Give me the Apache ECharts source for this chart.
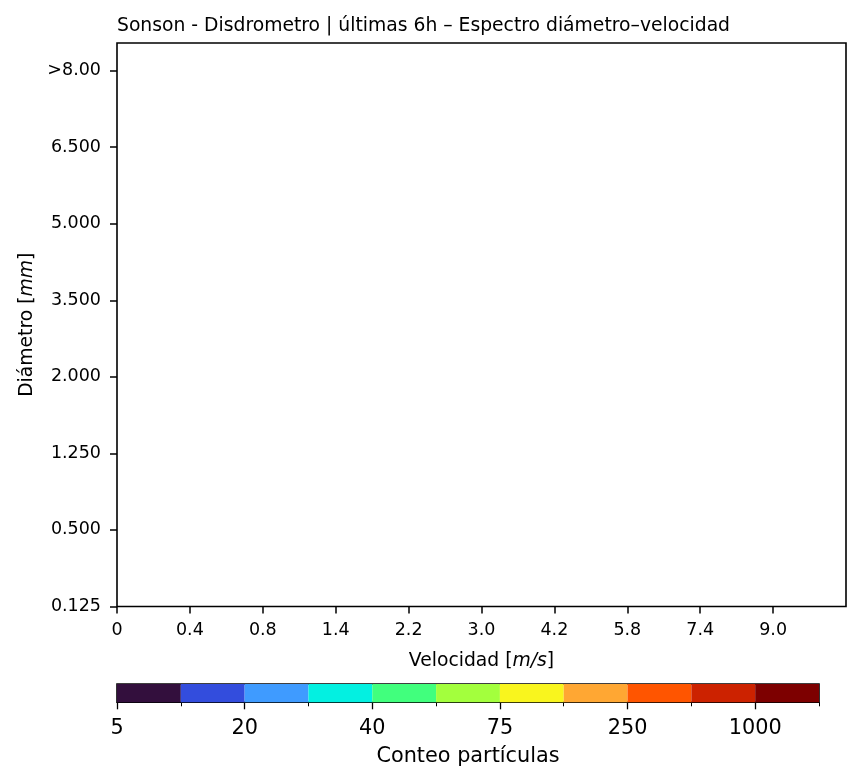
<!DOCTYPE html>
<html>
<head>
<meta charset="utf-8">
<script src="https://cdn.jsdelivr.net/npm/echarts@6/dist/echarts.min.js"></script>
<style>
html,body{margin:0;padding:0;background:#fff;}
#chart{width:861px;height:782px;}
</style>
</head>
<body>
<div id="chart"></div>
<script>
// ---- data ----
const titleText = 'Sonson - Disdrometro | últimas 6h – Espectro diámetro–velocidad';
const velLabels = ['0', '0.4', '0.8', '1.4', '2.2', '3.0', '4.2', '5.8', '7.4', '9.0'];
const diamLabels = ['0.125', '0.500', '1.250', '2.000', '3.500', '5.000', '6.500', '>8.00'];
const countLabels = ['5', '20', '40', '75', '250', '1000'];
const colorbarColors = ['#330f3d', '#334ddd', '#3f9bff', '#03f0e1', '#41ff7d', '#a3ff3d',
                        '#f9f51e', '#ffa733', '#ff5500', '#cc2200', '#7d0000'];
// spectrum cells: [velocityIndex, diameterIndex, count] — no particles in the period
const spectrum = [];

// ---- layout constants ----
const velMax = 10;
const diamMax = 7.36;
const FONT = 'DejaVu Sans';
const BLACK = '#000';

const chart = echarts.init(document.getElementById('chart'), null, {renderer: 'canvas'});

const majorCb = countLabels.map((_, i) => i * 2);
const minorCb = countLabels.map((_, i) => i * 2 + 1);

chart.setOption({
  animation: false,
  backgroundColor: '#fff',
  title: {
    text: titleText,
    left: 117, top: 17, padding: 0,
    textStyle: {fontFamily: FONT, fontSize: 18.75, fontWeight: 'normal', color: BLACK}
  },
  grid: [
    {left: 117, top: 43, width: 729, height: 563.5, show: true, borderColor: BLACK, borderWidth: 1.6, backgroundColor: '#fff'},
    {left: 117, top: 684, width: 702, height: 18.3, show: true, borderColor: BLACK, borderWidth: 1.6}
  ],
  xAxis: [
    {
      gridIndex: 0, type: 'value', min: 0, max: velMax, position: 'bottom',
      axisLine: {show: false}, splitLine: {show: false},
      axisTick: {show: true, length: 7, customValues: velLabels.map((_, i) => i), lineStyle: {color: BLACK, width: 1.5}},
      axisLabel: {
        customValues: velLabels.map((_, i) => i), margin: 15,
        formatter: v => velLabels[Math.round(v)],
        fontFamily: FONT, fontSize: 17.5, color: BLACK
      },
      name: 'Velocidad [{i|m/s}]', nameLocation: 'middle', nameGap: 45,
      nameTextStyle: {fontFamily: FONT, fontSize: 18.75, color: BLACK,
        rich: {i: {fontFamily: FONT, fontStyle: 'italic', fontSize: 18.75, color: BLACK}}}
    },
    {
      gridIndex: 1, type: 'value', min: 0, max: colorbarColors.length, position: 'bottom',
      axisLine: {show: false}, splitLine: {show: false},
      axisTick: {show: true, length: 7, customValues: majorCb, lineStyle: {color: BLACK, width: 1.3}},
      axisLabel: {
        customValues: majorCb, margin: 15.5,
        formatter: v => countLabels[Math.round(v / 2)],
        fontFamily: FONT, fontSize: 20.8, color: BLACK
      },
      name: 'Conteo partículas', nameLocation: 'middle', nameGap: 44,
      nameTextStyle: {fontFamily: FONT, fontSize: 20.8, color: BLACK}
    },
    {
      gridIndex: 1, type: 'value', min: 0, max: colorbarColors.length, position: 'bottom',
      axisLine: {show: false}, splitLine: {show: false},
      axisTick: {show: true, length: 4, customValues: minorCb, lineStyle: {color: BLACK, width: 1.0}},
      axisLabel: {show: false}
    }
  ],
  yAxis: [
    {
      gridIndex: 0, type: 'value', min: 0, max: diamMax, position: 'left',
      axisLine: {show: false}, splitLine: {show: false},
      axisTick: {show: true, length: 7, customValues: diamLabels.map((_, i) => i), lineStyle: {color: BLACK, width: 1.5}},
      axisLabel: {
        customValues: diamLabels.map((_, i) => i), margin: 16,
        formatter: v => diamLabels[Math.round(v)],
        fontFamily: FONT, fontSize: 17.5, color: BLACK
      },
      name: 'Diámetro [{i|mm}]', nameLocation: 'middle', nameGap: 80,
      nameTextStyle: {fontFamily: FONT, fontSize: 18.75, color: BLACK,
        rich: {i: {fontFamily: FONT, fontStyle: 'italic', fontSize: 18.75, color: BLACK}}}
    },
    {
      gridIndex: 1, type: 'value', min: 0, max: 1, show: false
    }
  ],
  series: [
    {
      type: 'custom', name: 'spectrum', xAxisIndex: 0, yAxisIndex: 0,
      data: spectrum,
      renderItem: function (params, api) {
        const p0 = api.coord([api.value(0), api.value(1) + 1]);
        const p1 = api.coord([api.value(0) + 1, api.value(1)]);
        return {type: 'rect', shape: {x: p0[0], y: p0[1], width: p1[0] - p0[0], height: p1[1] - p0[1]},
                style: {fill: '#888'}};
      }
    },
    {
      type: 'custom', name: 'colorbar', xAxisIndex: 1, yAxisIndex: 1,
      data: colorbarColors.map((c, i) => [i]),
      encode: {x: 0},
      renderItem: function (params, api) {
        const i = api.value(0);
        const p0 = api.coord([i, 1]);
        const p1 = api.coord([i + 1, 0]);
        return {type: 'rect', shape: {x: p0[0], y: p0[1], width: p1[0] - p0[0], height: p1[1] - p0[1]},
                style: {fill: colorbarColors[i]}};
      },
      z: 1
    }
  ]
});
</script>
</body>
</html>
